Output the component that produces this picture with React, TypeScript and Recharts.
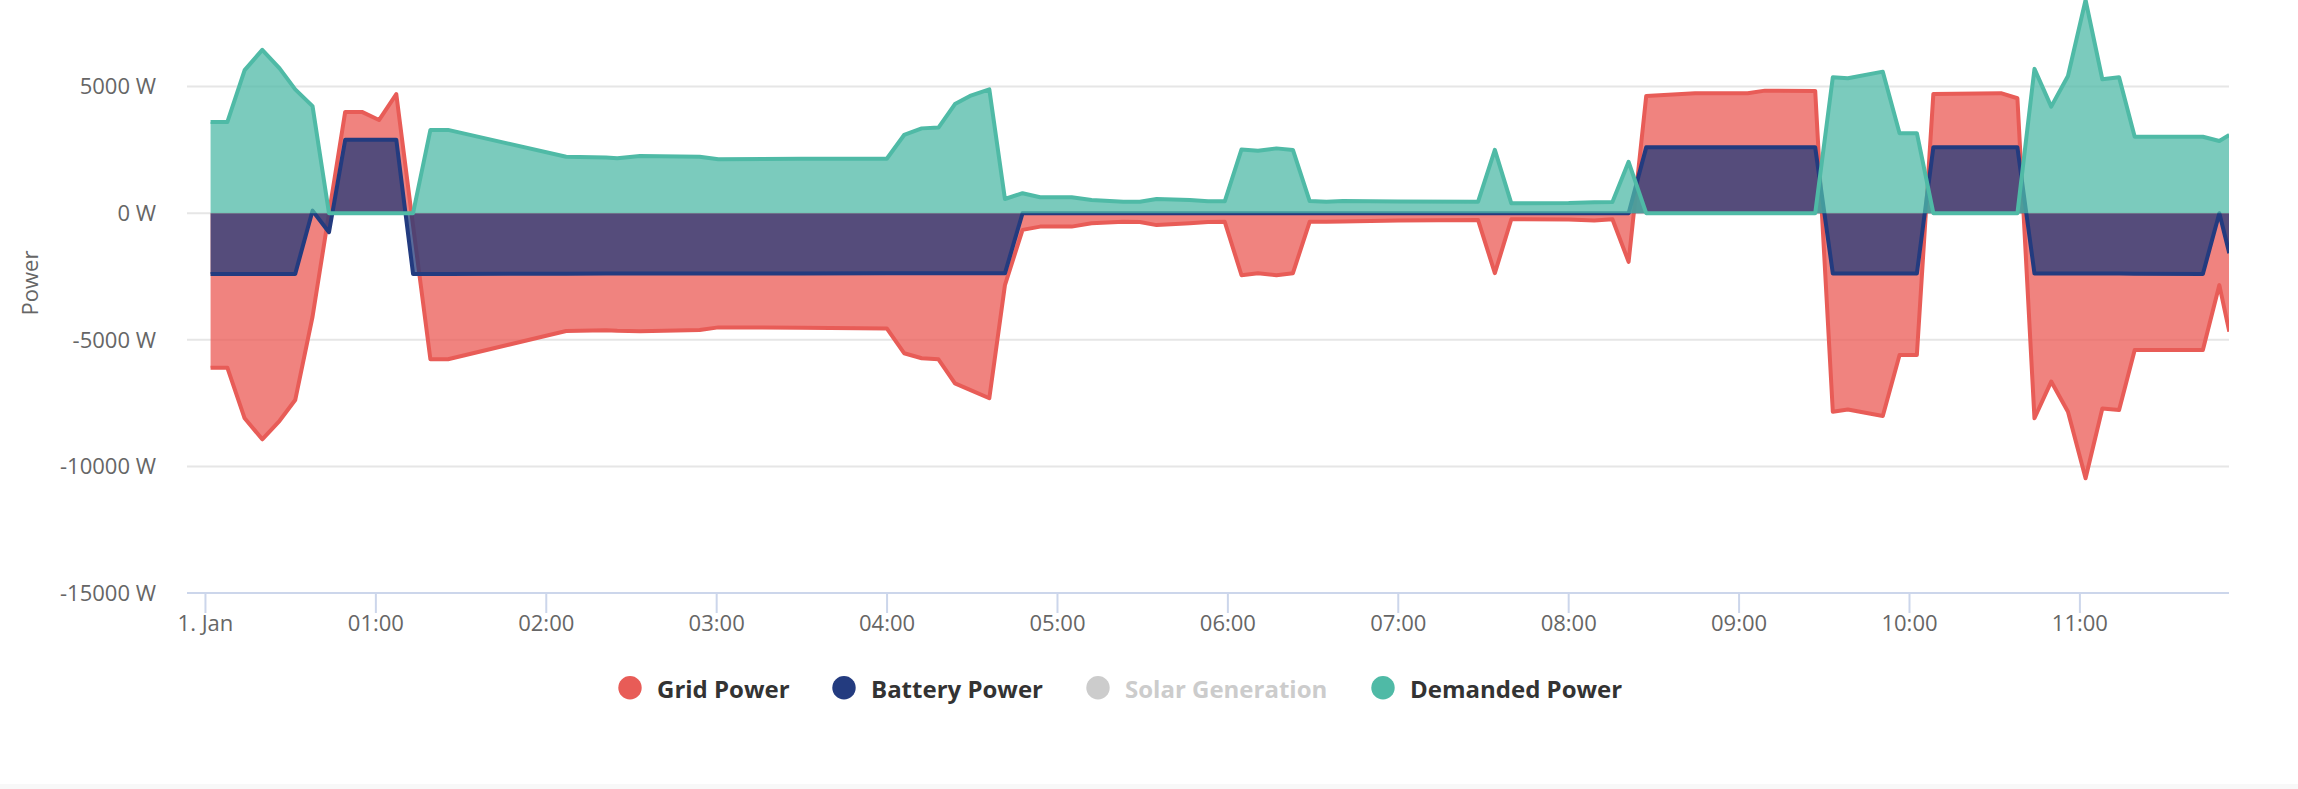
import { AreaChart, Area, XAxis, YAxis, CartesianGrid } from "recharts";

// sample times in minutes after midnight, 1 Jan
const minutes = [
  1.8, 7.7, 13.8, 20, 26.1, 31.6, 37.7, 43.5, 49.2, 55.1, 61.1, 67.2, 73.1,
  79.2, 85.4, 127, 141, 145, 153, 174, 180.6, 210, 239.9, 246, 252.2, 258.1,
  263.9, 269.2, 276, 281.5, 287.7, 293.9, 305, 312, 323.2, 329, 334.9, 346.6,
  353, 358.9, 364.8, 370.6, 377.1, 382.9, 388.8, 394.7, 400.5, 420, 448.1, 454,
  459.8, 480, 489, 495.4, 501.1, 507.3, 524.5, 543, 549.1, 566.8, 573, 578.3,
  590.6, 596.5, 602.6, 608.4, 632.2, 638, 644, 649.9, 655.8, 662, 667.9, 673.8,
  679.3, 703.3, 709.1, 712.6,
];

const gridPower = [
  -6100, -6100, -8100, -8930, -8200, -7380, -4090, 0, 4000, 4000, 3680, 4700,
  -500, -5770, -5770, -4650, -4620, -4640, -4660, -4610, -4510, -4520, -4550,
  -5530, -5730, -5770, -6720, -6980, -7310, -2840, -660, -530, -530, -400,
  -340, -350, -470, -400, -350, -340, -2450, -2370, -2450, -2370, -340, -340,
  -330, -290, -270, -2370, -240, -250, -290, -240, -1920, 4630, 4740, 4740,
  4840, 4830, -7840, -7750, -8010, -5600, -5600, 4710, 4740, 4540, -8100,
  -6650, -7840, -10470, -7710, -7770, -5400, -5400, -2840, -4680,
];

const batteryPower = [
  -2400, -2400, -2400, -2400, -2400, -2400, 100, -750, 2900, 2900, 2900, 2900,
  -2400, -2400, -2400, -2390, -2385, -2385, -2385, -2380, -2380, -2380, -2375,
  -2375, -2375, -2375, -2375, -2375, -2375, -2375, 0, 0, 0, 0, 0, 0, 0, 0, 0,
  0, 0, 0, 0, 0, 0, 0, 0, 0, 0, 0, 0, 0, 0, 0, 0, 2600, 2600, 2600, 2600,
  2600, -2380, -2380, -2380, -2380, -2380, 2600, 2600, 2600, -2380, -2380,
  -2380, -2380, -2380, -2380, -2390, -2400, 0, -1580,
];

const demandedPower = [
  3600, 3600, 5650, 6450, 5720, 4890, 4230, 0, 0, 0, 0, 0, 0, 3290, 3290, 2230,
  2200, 2170, 2260, 2230, 2130, 2150, 2150, 3090, 3350, 3380, 4310, 4630, 4890,
  560, 790, 630, 630, 520, 455, 455, 560, 520, 470, 470, 2520, 2470, 2560,
  2500, 480, 455, 480, 460, 455, 2500, 390, 400, 430, 440, 2030, 0, 0, 0, 0, 0,
  5370, 5330, 5590, 3160, 3160, 0, 0, 0, 5700, 4210, 5420, 8420, 5290, 5370,
  3020, 3020, 2850, 3090,
];

const hourTicks = [0, 60, 120, 180, 240, 300, 360, 420, 480, 540, 600, 660];
const powerTicks = [-15000, -10000, -5000, 0, 5000];
const gridLines = [-10000, -5000, 0, 5000];

const legendItems = [
  { name: "Grid Power", color: "#e85c57", cx: 630, tx: 657, hidden: false },
  { name: "Battery Power", color: "#233b7f", cx: 844, tx: 871, hidden: false },
  { name: "Solar Generation", color: "#cccccc", cx: 1098, tx: 1125, hidden: true },
  { name: "Demanded Power", color: "#4fbaa6", cx: 1383, tx: 1410, hidden: false },
];

const rows = minutes.map((t, i) => ({
  t,
  grid: gridPower[i],
  battery: batteryPower[i],
  demanded: demandedPower[i],
}));

const font = "'Open Sans', sans-serif";

function hourLabel(v: number) {
  if (v === 0) return "1. Jan";
  const h = Math.round(v / 60);
  return `${h < 10 ? "0" : ""}${h}:00`;
}

export default function App() {
  return (
    <div
      style={{
        position: "absolute",
        left: 0,
        top: 0,
        width: 2298,
        height: 789,
        background: "#ffffff",
        overflow: "hidden",
        fontFamily: font,
      }}
    >
      <AreaChart
        width={2298}
        height={650}
        data={rows}
        margin={{ top: 0, right: 69, left: 0, bottom: 0 }}
      >
        <CartesianGrid
          vertical={false}
          horizontalValues={gridLines}
          stroke="#e6e6e6"
          strokeWidth={2}
        />
        <XAxis
          dataKey="t"
          type="number"
          domain={[-6.5, 712.5]}
          allowDataOverflow
          ticks={hourTicks}
          tickFormatter={hourLabel}
          height={57}
          stroke="#ccd6eb"
          strokeWidth={2}
          tickSize={20}
          tickMargin={2}
          tick={{ fill: "#666666", fontSize: 22, fontFamily: font }}
        />
        <YAxis
          type="number"
          domain={[-15000, 8420]}
          allowDataOverflow
          ticks={powerTicks}
          tickFormatter={(v) => `${v} W`}
          width={187}
          axisLine={false}
          tickLine={false}
          tickSize={0}
          tickMargin={31}
          tick={{ fill: "#666666", fontSize: 22, fontFamily: font }}
        />
        <Area
          type="linear"
          dataKey="grid"
          name="Grid Power"
          baseValue={0}
          stroke="#e85c57"
          strokeWidth={4}
          strokeLinejoin="round"
          fill="#eb5a54"
          fillOpacity={0.75}
          dot={false}
          activeDot={false}
          isAnimationActive={false}
        />
        <Area
          type="linear"
          dataKey="battery"
          name="Battery Power"
          baseValue={0}
          stroke="#233b7f"
          strokeWidth={4}
          strokeLinejoin="round"
          fill="#223a7a"
          fillOpacity={0.75}
          dot={false}
          activeDot={false}
          isAnimationActive={false}
        />
        <Area
          type="linear"
          dataKey="demanded"
          name="Demanded Power"
          baseValue={0}
          stroke="#4fbaa6"
          strokeWidth={4}
          strokeLinejoin="round"
          fill="#4fbaa7"
          fillOpacity={0.75}
          dot={false}
          activeDot={false}
          isAnimationActive={false}
        />
      </AreaChart>
      <svg
        width={2298}
        height={789}
        style={{ position: "absolute", left: 0, top: 0, pointerEvents: "none" }}
      >
        <text
          transform="translate(38,283) rotate(-90)"
          textAnchor="middle"
          fontSize={22}
          fontFamily={font}
          fill="#666666"
        >
          Power
        </text>
        {legendItems.map((item) => (
          <g key={item.name}>
            <circle cx={item.cx} cy={687.7} r={11.7} fill={item.color} />
            <text
              x={item.tx}
              y={698}
              fontSize={24}
              fontWeight="bold"
              fontFamily={font}
              fill={item.hidden ? "#cccccc" : "#333333"}
            >
              {item.name}
            </text>
          </g>
        ))}
        <rect x={0} y={784} width={2298} height={5} fill="#f8f8f8" />
      </svg>
    </div>
  );
}
